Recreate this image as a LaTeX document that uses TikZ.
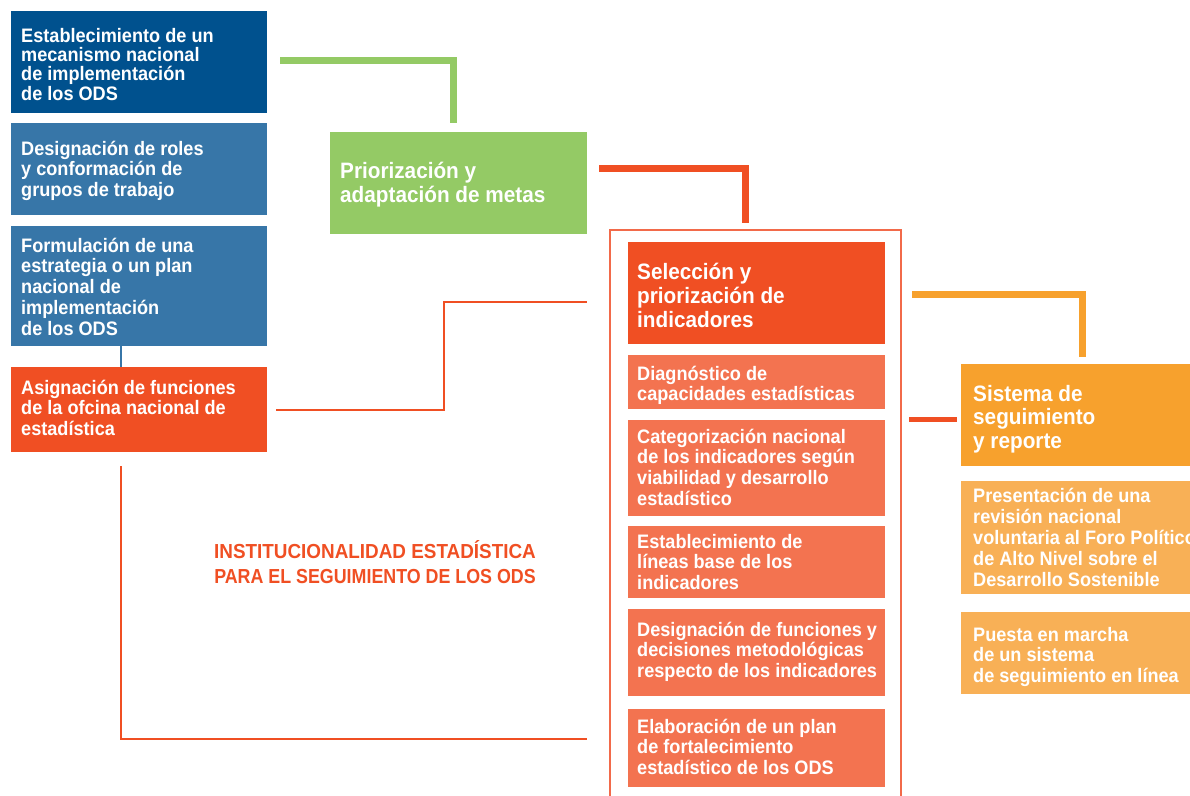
\documentclass[tikz,border=0pt]{standalone}
\usepackage{graphicx}
\usepackage{fontspec}
\setmainfont{Liberation Sans}[FakeStretch=0.93]
\definecolor{dblue}{RGB}{0,81,142}
\definecolor{mblue}{RGB}{55,118,168}
\definecolor{redc}{RGB}{240,79,35}
\definecolor{lred}{RGB}{243,115,80}
\definecolor{framec}{RGB}{242,106,74}
\definecolor{greenc}{RGB}{148,202,101}
\definecolor{orangec}{RGB}{247,161,45}
\definecolor{lorange}{RGB}{248,176,86}
\tikzset{
  boxn/.style={draw=none, inner sep=0pt, outer sep=0pt, anchor=north west},
  tsm/.style={anchor=base west, inner sep=0pt, align=left, text=white,
    font=\bfseries\fontsize{19.5}{20.5}\selectfont},
  tbg/.style={tsm, font=\bfseries\fontsize{22.3}{24.3}\selectfont},
  thick7/.style={line width=7pt, line join=miter, line cap=butt},
  thin2/.style={line width=2pt, line join=miter, line cap=butt, draw=redc},
}
\begin{document}
\begin{tikzpicture}[x=1pt,y=-1pt]
\useasboundingbox[fill=white] (0,0) rectangle (1190,795);
\clip (0,0) rectangle (1190,795);

% left column (text nodes placed at the baseline of their last line)
\node[boxn, fill=dblue, minimum width=256pt, minimum height=102pt] (b1) at (11,11) {};
\node[tsm, font=\bfseries\fontsize{19.5}{19.4}\selectfont] (t1) at (21,100.2) {Establecimiento de un\\mecanismo nacional\\de implementación\\de los ODS};
\node[boxn, fill=mblue, minimum width=256pt, minimum height=92pt] (b2) at (11,123) {};
\node[tsm] (t2) at (21,196) {Designación de roles\\y conformación de\\grupos de trabajo};
\node[boxn, fill=mblue, minimum width=256pt, minimum height=120pt] (b3) at (11,226) {};
\node[tsm, font=\bfseries\fontsize{19.5}{20.8}\selectfont] (t3) at (21,335.2) {Formulación de una\\estrategia o un plan\\nacional de\\implementación\\de los ODS};
\node[boxn, fill=redc, minimum width=256pt, minimum height=85pt] (b4) at (11,367) {};
\node[tsm] (t4) at (21,435) {Asignación de funciones\\de la ofcina nacional de\\estadística};

% green box
\node[boxn, fill=greenc, minimum width=257pt, minimum height=102pt] (b5) at (330,132) {};
\node[tbg] (t5) at (340,202.3) {Priorización y\\adaptación de metas};

% frame
\node[boxn, draw=framec, line width=2pt, minimum width=291pt, minimum height=600pt] (fr) at (610,230) {};

% center column
\node[boxn, fill=redc, minimum width=257pt, minimum height=102pt] (c1) at (628,242) {};
\node[tbg] (u1) at (637,327.6) {Selección y\\priorización de\\indicadores};
\node[boxn, fill=lred, minimum width=257pt, minimum height=54pt] (c2) at (628,355) {};
\node[tsm, font=\bfseries\fontsize{19.5}{20}\selectfont] (u2) at (637,400) {Diagnóstico de\\capacidades estadísticas};
\node[boxn, fill=lred, minimum width=257pt, minimum height=96pt] (c3) at (628,420) {};
\node[tsm, font=\bfseries\fontsize{19.5}{20.7}\selectfont] (u3) at (637,505.1) {Categorización nacional\\de los indicadores según\\viabilidad y desarrollo\\estadístico};
\node[boxn, fill=lred, minimum width=257pt, minimum height=72pt] (c4) at (628,526) {};
\node[tsm] (u4) at (637,589) {Establecimiento de\\líneas base de los\\indicadores};
\node[boxn, fill=lred, minimum width=257pt, minimum height=87pt] (c5) at (628,609) {};
\node[tsm] (u5) at (637,677) {Designación de funciones y\\decisiones metodológicas\\respecto de los indicadores};
\node[boxn, fill=lred, minimum width=257pt, minimum height=78pt] (c6) at (628,709) {};
\node[tsm] (u6) at (637,774) {Elaboración de un plan\\de fortalecimiento\\estadístico de los ODS};

% right column
\node[boxn, fill=orangec, minimum width=240pt, minimum height=102pt] (r1) at (961,364) {};
\node[tbg, font=\bfseries\fontsize{22.3}{23.5}\selectfont] (v1) at (973,448) {Sistema de\\seguimiento\\y reporte};
\node[boxn, fill=lorange, minimum width=240pt, minimum height=113pt] (r2) at (961,481) {};
\node[tsm, font=\bfseries\fontsize{19.5}{21}\selectfont] (v2) at (973,586) {Presentación de una\\revisión nacional\\voluntaria al Foro Político\\de Alto Nivel sobre el\\Desarrollo Sostenible};
\node[boxn, fill=lorange, minimum width=240pt, minimum height=82pt] (r3) at (961,612) {};
\node[tsm] (v3) at (973,682) {Puesta en marcha\\de un sistema\\de seguimiento en línea};

% title
\node[anchor=base, inner sep=0pt, align=center, text=redc,
  font=\bfseries\fontsize{20.3}{25}\selectfont] (title) at (375,583)
  {INSTITUCIONALIDAD ESTADÍSTICA\\\scalebox{0.945}[1]{PARA EL SEGUIMIENTO DE LOS ODS}};

% connectors
\coordinate (g0) at (280,60);
\coordinate (g1) at (453,123);
\draw[thick7, draw=greenc] (g0) -| (g1);
\coordinate (s0) at (599,168);
\coordinate (s1) at (745.5,223);
\draw[thick7, draw=redc] (s0) -| (s1);
\coordinate (o0) at (912,294);
\coordinate (o1) at (1082,357);
\draw[thick7, draw=orangec] (o0) -| (o1);
\coordinate (q0) at (909,419.5);
\coordinate (q1) at (957,419.5);
\draw[line width=5pt, draw=redc] (q0) -- (q1);
\coordinate (h0) at (276,410);
\coordinate (h1) at (444,302);
\coordinate (h2) at (587,302);
\draw[thin2] (h0) -| (h1) -- (h2);
\coordinate (k0) at (121,466);
\coordinate (k1) at (587,739);
\draw[thin2] (k0) |- (k1);
\draw[line width=2pt, draw=mblue] (b3.south -| k0) -- (b4.north -| k0);
\end{tikzpicture}
\end{document}
